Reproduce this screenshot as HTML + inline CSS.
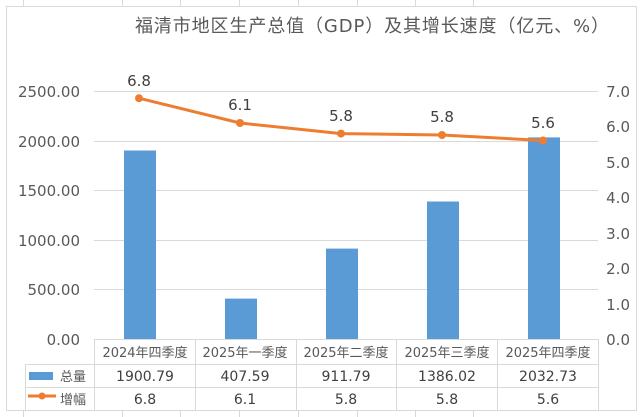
<!DOCTYPE html>
<html><head><meta charset="utf-8"><style>
body{margin:0;background:#fff}
svg{display:block;font-family:"DejaVu Sans","Noto Sans CJK SC",sans-serif}
</style></head><body>
<svg width="642" height="417" viewBox="0 0 642 417">
<g stroke="#d9d9d9" stroke-width="1">
<line x1="23.5" y1="0" x2="23.5" y2="417"/><line x1="122.5" y1="0" x2="122.5" y2="417"/>
<line x1="180.5" y1="0" x2="180.5" y2="417"/><line x1="239.5" y1="0" x2="239.5" y2="417"/>
<line x1="298.5" y1="0" x2="298.5" y2="417"/><line x1="357.5" y1="0" x2="357.5" y2="417"/>
<line x1="415.5" y1="0" x2="415.5" y2="417"/><line x1="473.5" y1="0" x2="473.5" y2="417"/>
</g>
<rect x="6.5" y="6.5" width="630" height="404" fill="#fff" stroke="#d9d9d9"/>
<text x="372" y="32" font-size="18" fill="#595959" text-anchor="middle" textLength="474">福清市地区生产总值（GDP）及其增长速度（亿元、%）</text>
<g stroke="#d9d9d9" stroke-width="1">
<line x1="94" y1="91.5" x2="598" y2="91.5"/><line x1="94" y1="141.5" x2="598" y2="141.5"/>
<line x1="94" y1="190.5" x2="598" y2="190.5"/><line x1="94" y1="240.5" x2="598" y2="240.5"/>
<line x1="94" y1="289.5" x2="598" y2="289.5"/>
</g>
<g font-size="15" fill="#595959" text-anchor="end">
<text x="80" y="97">2500.00</text><text x="80" y="147">2000.00</text><text x="80" y="196">1500.00</text>
<text x="80" y="246">1000.00</text><text x="80" y="295">500.00</text><text x="80" y="345">0.00</text>
</g>
<g font-size="15" fill="#595959" text-anchor="end">
<text x="630" y="97">7.0</text><text x="630" y="132">6.0</text><text x="630" y="168">5.0</text>
<text x="630" y="203">4.0</text><text x="630" y="239">3.0</text><text x="630" y="274">2.0</text>
<text x="630" y="310">1.0</text><text x="630" y="345">0.0</text>
</g>
<g fill="#5b9bd5">
<rect x="124" y="150.5" width="32" height="188.5"/>
<rect x="225" y="298.6" width="32" height="40.4"/>
<rect x="326" y="248.6" width="32" height="90.4"/>
<rect x="427" y="201.5" width="32" height="137.5"/>
<rect x="528" y="137.4" width="32" height="201.6"/>
</g>
<polyline points="139,98.2 240,123 341,133.6 442,135 543,140.5" fill="none" stroke="#ed7d31" stroke-width="3" stroke-linejoin="round"/>
<g fill="#ed7d31"><circle cx="139" cy="98.2" r="4"/><circle cx="240" cy="123" r="4"/><circle cx="341" cy="133.6" r="4"/><circle cx="442" cy="135" r="4"/><circle cx="543" cy="140.5" r="4"/></g>
<g font-size="15" fill="#404040" text-anchor="middle">
<text x="139" y="86">6.8</text><text x="240" y="110">6.1</text><text x="341" y="121">5.8</text><text x="442" y="122">5.8</text><text x="543" y="128">5.6</text>
</g>
<g stroke="#d9d9d9" stroke-width="1" fill="none">
<line x1="94" y1="339.5" x2="598" y2="339.5"/>
<line x1="25" y1="364.5" x2="598" y2="364.5"/>
<line x1="25" y1="387.5" x2="598" y2="387.5"/>
<line x1="25" y1="410.5" x2="598" y2="410.5"/>
<line x1="25.5" y1="364" x2="25.5" y2="411"/>
<line x1="94.5" y1="339" x2="94.5" y2="411"/>
<line x1="195.5" y1="339" x2="195.5" y2="411"/>
<line x1="296.5" y1="339" x2="296.5" y2="411"/>
<line x1="396.5" y1="339" x2="396.5" y2="411"/>
<line x1="497.5" y1="339" x2="497.5" y2="411"/>
<line x1="598.5" y1="339" x2="598.5" y2="411"/>
</g>
<g font-size="13" fill="#595959" text-anchor="middle">
<text x="145" y="357">2024年四季度</text><text x="245" y="357">2025年一季度</text><text x="346" y="357">2025年二季度</text><text x="447" y="357">2025年三季度</text><text x="548" y="357">2025年四季度</text>
</g>
<g font-size="14" fill="#404040" text-anchor="middle">
<text x="145" y="381">1900.79</text><text x="245" y="381">407.59</text><text x="346" y="381">911.79</text><text x="447" y="381">1386.02</text><text x="548" y="381">2032.73</text>
<text x="145" y="404">6.8</text><text x="245" y="404">6.1</text><text x="346" y="404">5.8</text><text x="447" y="404">5.8</text><text x="548" y="404">5.6</text>
</g>
<rect x="29" y="372" width="24" height="8" fill="#5b9bd5"/>
<line x1="28" y1="396" x2="56" y2="396" stroke="#ed7d31" stroke-width="3"/>
<circle cx="42" cy="396" r="3.5" fill="#ed7d31"/>
<g font-size="13" fill="#595959"><text x="60" y="381">总量</text><text x="60" y="404">增幅</text></g>
</svg>
</body></html>
